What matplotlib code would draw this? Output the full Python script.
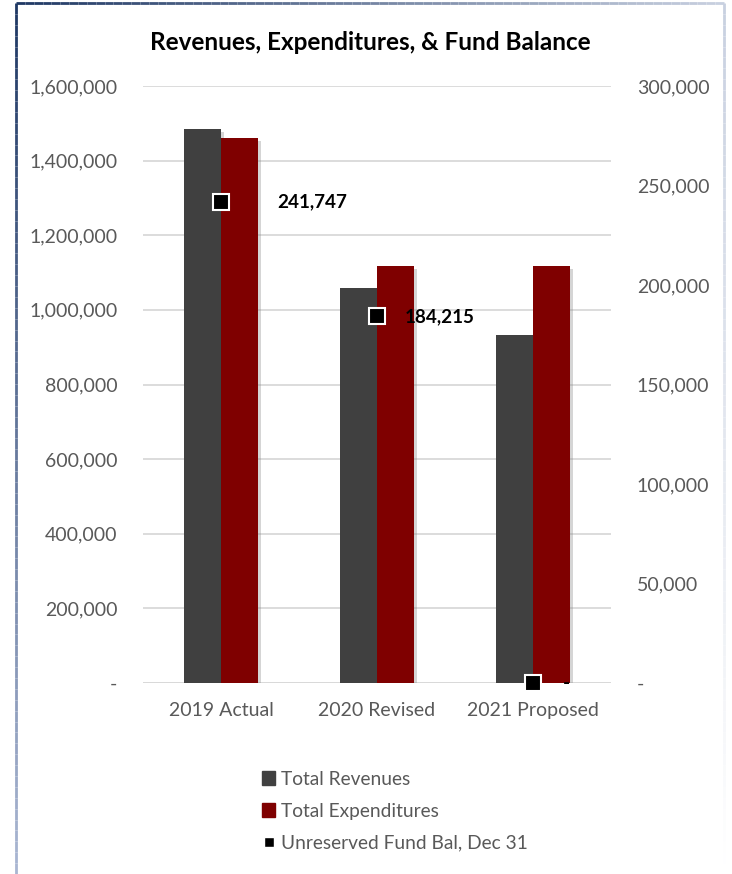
import numpy as np
import matplotlib.pyplot as plt
from matplotlib.collections import LineCollection
from matplotlib.patches import Patch
from matplotlib.lines import Line2D
from matplotlib.ticker import FuncFormatter
import matplotlib.patheffects as pe

plt.rcParams['font.family'] = ['Lato', 'DejaVu Sans']

categories = ['2019 Actual', '2020 Revised', '2021 Proposed']
revenues = [1485000, 1058000, 932000]
expenditures = [1460000, 1117000, 1117000]
fund_balance = [241747, 184215, 0]
fund_labels = ['241,747', '184,215', '-']
label_offsets = [(56, 0), (28, 0), (30, 0)]

REV_COLOR = '#404040'
EXP_COLOR = '#7f0000'
GRID = '#d9d9d9'
TEXT = '#595959'


def thousands(v, pos):
    return '-' if v == 0 else f'{v:,.0f}'


def gradient_line(fig, x0, y0, x1, y1, c0, c1, lw=2.0, n=80):
    """Straight line in figure pixels whose colour fades from c0 to c1."""
    W, H = fig.get_size_inches() * fig.dpi
    xs = np.linspace(x0, x1, n + 1) / W
    ys = 1 - np.linspace(y0, y1, n + 1) / H
    segs = [[(xs[i], ys[i]), (xs[i + 1], ys[i + 1])] for i in range(n)]
    a = np.array(plt.matplotlib.colors.to_rgba(c0))
    b = np.array(plt.matplotlib.colors.to_rgba(c1))
    cols = [a + (b - a) * t for t in np.linspace(0, 1, n)]
    lc = LineCollection(segs, colors=cols, linewidths=lw, transform=fig.transFigure)
    fig.add_artist(lc)


fig = plt.figure(figsize=(7.32, 8.74), dpi=100)
W, H = 732, 874
ax = fig.add_axes([143 / W, 1 - 683 / H, (611 - 143) / W, (683 - 86) / H])
ax2 = ax.twinx()

x = np.arange(len(categories))
width = 0.237
shadow = [pe.SimplePatchShadow(offset=(2, -2), shadow_rgbFace='#888888', alpha=0.35), pe.Normal()]
ax.bar(x - width / 2, revenues, width, color=REV_COLOR, zorder=3, path_effects=shadow)
ax.bar(x + width / 2, expenditures, width, color=EXP_COLOR, zorder=3, path_effects=shadow)

ax.set_xlim(-0.5, 2.5)
ax.set_ylim(0, 1600000)
ax.set_yticks(np.arange(0, 1600001, 200000))
ax.yaxis.set_major_formatter(FuncFormatter(thousands))
ax.grid(axis='y', color=GRID, lw=1.3, zorder=0)
ax.set_axisbelow(True)
ax.set_xticks(x)
ax.set_xticklabels(categories)

ax2.set_ylim(0, 300000)
ax2.set_yticks(np.arange(0, 300001, 50000))
ax2.yaxis.set_major_formatter(FuncFormatter(thousands))
ax2.plot(x, fund_balance, ls='none', marker='s', ms=11.5, mfc='black', mec='white',
         mew=1.5, zorder=5, clip_on=False)
for xi, v, lab, off in zip(x, fund_balance, fund_labels, label_offsets):
    ax2.annotate(lab, (xi, v), xytext=off, textcoords='offset pixels', ha='left',
                 va='center', fontsize=13.6, fontweight='bold', color='black')

for a in (ax, ax2):
    for s in a.spines.values():
        s.set_visible(False)
    a.tick_params(length=0, labelsize=14, labelcolor=TEXT)
ax.tick_params(axis='y', pad=18.5)
ax2.tick_params(axis='y', pad=18.5)
ax.tick_params(axis='x', pad=14)
ax.axhline(0, color=GRID, lw=2, zorder=2)

fig.text(370 / W, 1 - 42 / H, 'Revenues, Expenditures, & Fund Balance', ha='center',
         va='center', fontsize=17.5, fontweight='bold', color='black')

handles = [Patch(color=REV_COLOR), Patch(color=EXP_COLOR),
           Line2D([], [], ls='none', marker='s', ms=7, mfc='black', mec='white', mew=1)]
fig.legend(handles, ['Total Revenues', 'Total Expenditures', 'Unreserved Fund Bal, Dec 31'],
           loc='upper left', bbox_to_anchor=(254 / W, 1 - 763 / H), frameon=False,
           fontsize=13.8, labelcolor=TEXT, handlelength=0.72, handleheight=0.72,
           handletextpad=0.3, labelspacing=0.78, borderaxespad=0)

# outer chart border, dark at the top-left corner and fading out
gradient_line(fig, 16, 3, 724, 3, '#1f3864', '#c8d0e0')
gradient_line(fig, 16, 3, 16, 874, '#1f3864', '#a9b6d2')
gradient_line(fig, 724, 3, 724, 874, '#c8d0e0', '#ffffff')

fig.savefig('out.png', dpi=100)
